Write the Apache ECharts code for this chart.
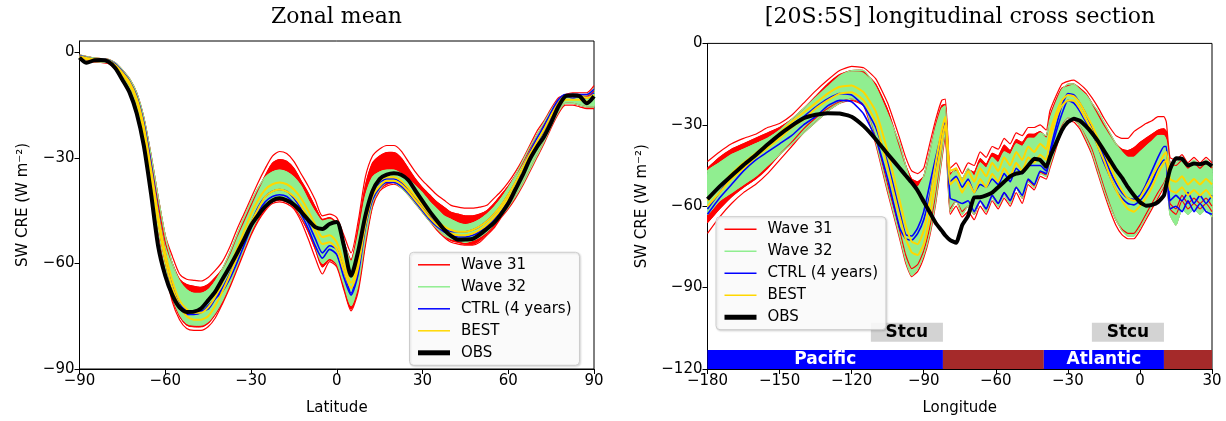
<!DOCTYPE html>
<html><head><meta charset="utf-8">
<script src="https://cdn.jsdelivr.net/npm/echarts@6/dist/echarts.min.js"></script>
<style>html,body{margin:0;padding:0;background:#fff}#c{width:1226px;height:421px}</style>
</head><body><div id="c"></div><script>
// ---------------- Left panel: Zonal mean ----------------
const lat = [-90,-87.5,-85,-82.5,-80,-77.5,-75,-72.5,-70,-67.5,-65,-62.5,-60,-57.5,-55,-52.5,-50,-47.5,-45,-42.5,-40,-37.5,-35,-32.5,-30,-27.5,-25,-22.5,-20,-17.5,-15,-12.5,-10,-7.5,-5,-2.5,0,2.5,5,7.5,10,12.5,15,17.5,20,22.5,25,27.5,30,32.5,35,37.5,40,42.5,45,47.5,50,52.5,55,57.5,60,62.5,65,67.5,70,72.5,75,77.5,80,82.5,85,87.5,90];
const zmObs = [-1.5,-3.0,-2.3,-2.2,-2.6,-4.5,-7.8,-11.4,-17.3,-26.5,
 -40,-55,-63.5,-69,-72.5,-73.8,-73.7,-72.8,-70.5,-68,
 -64.5,-61,-57.3,-53.3,-49.2,-46.3,-43.8,-42.1,-41.5,-42.1,
 -43.3,-45.3,-47.6,-49.7,-50.2,-48.8,-48.2,-55,-63.5,-56.5,
 -46.5,-39.5,-36,-34.8,-34.4,-34.8,-36.3,-39.3,-42.3,-45.2,
 -47.8,-50.3,-52.2,-53.3,-53.2,-53,-51.8,-50.2,-48.5,-46,
 -43,-39,-35,-30.5,-27,-24,-20,-15.5,-12.5,-12.2,
 -12.5,-14.5,-12.5];
const zmBest1 = [-1.2,-1.6,-2.0,-2.1,-2.3,-3.6,-5.8,-8.5,-13,-21,
 -33,-46,-57,-65,-70.5,-73,-74,-74,-72.5,-69.5,
 -65.5,-61,-56,-51,-46,-42,-39,-37.5,-37,-37.5,
 -39,-41.5,-45,-49,-52.5,-52,-54,-60,-65.5,-59,
 -47,-39.5,-36.5,-35.5,-35.5,-36.5,-38.5,-41,-43.5,-46,
 -48,-49.5,-50.5,-51,-51,-50.5,-49.5,-48,-46,-43.5,
 -40.5,-37,-33,-29,-25.5,-22,-18,-14.5,-12.5,-12.5,
 -12.5,-13,-12];
const zmBest2 = [-1.5,-1.9,-2.3,-2.4,-2.6,-4.0,-6.3,-9.2,-14,-22.5,
 -35,-48,-59,-67,-72,-75,-76,-76,-75,-72,
 -68,-63.5,-58.5,-53.5,-48.5,-44.5,-41,-39.5,-39,-39.5,
 -41,-43.5,-47,-51,-54.5,-54,-56,-62,-67,-61,
 -49,-41,-38,-36.5,-36.5,-37.5,-39.5,-42,-44.5,-47,
 -49,-50.5,-51.5,-52,-52,-51.5,-50.5,-49,-47,-44.5,
 -41.5,-38.5,-34.5,-30.5,-27,-23.5,-19.5,-15.5,-13.5,-13.5,
 -13.5,-14,-13];
const zmCtrl1 = [-1.0,-1.5,-1.9,-2.0,-2.2,-3.3,-5.5,-8.2,-12.5,-20,
 -31.5,-45,-57,-66,-71.5,-73.5,-74,-73.5,-73,-70,
 -67,-63,-58.5,-53,-48.5,-44,-41,-39.5,-39,-39.5,
 -41.5,-44.5,-48.5,-53,-57,-55,-56,-62,-68.5,-61,
 -48,-40,-37,-36,-36,-37,-39,-41.5,-44,-46.5,
 -48.5,-50,-51,-51,-51,-50.5,-49.5,-48,-46,-43.5,
 -40.5,-37,-33,-28.5,-24.5,-21,-17,-13.5,-12,-12,
 -12,-12,-10.5];
const zmCtrl2 = [-1.3,-1.8,-2.2,-2.2,-2.4,-3.7,-6.0,-8.8,-13.5,-21.5,
 -34,-47.5,-59,-67.5,-72.5,-74.5,-74.5,-74,-72,-70,
 -68,-64.5,-60,-55,-50,-45.5,-42.5,-41,-40.5,-41,
 -43,-46,-50,-55,-58.5,-56,-57.5,-64,-69,-63,
 -50,-42,-38.5,-37,-37,-38,-40,-42.5,-45,-47.5,
 -49.5,-51,-52,-52.5,-52.5,-52,-51,-49.5,-47.5,-45,
 -42,-38.5,-34.5,-30,-26,-22.5,-18.5,-14.5,-12.5,-13,
 -12.5,-13,-11.5];
const zmW32Top = [-0.8,-1.2,-1.6,-1.8,-2.0,-3.0,-5.0,-7.5,-11.5,-18.5,
 -29,-41,-52,-60,-65,-67.5,-68.5,-68.5,-67.5,-65,
 -61.5,-57,-52,-47,-42.5,-38.5,-35.5,-34,-33.5,-34,
 -35.5,-38,-42,-45.5,-48,-47.5,-49,-54,-59.5,-52,
 -41,-35.5,-34,-33.5,-33.5,-34.5,-36,-38,-40,-42.5,
 -44.5,-46.5,-47.5,-48.5,-49,-48.5,-47.5,-46,-44,-41.5,
 -38.5,-35,-31,-27,-23.5,-20,-16.5,-13.5,-12,-12,
 -12,-12,-10.5];
const zmW32Bot = [-2.0,-2.5,-2.7,-2.8,-3.0,-4.5,-7.0,-10,-15,-24,
 -37,-50,-61,-69.5,-74.5,-77,-77.5,-77.5,-76.5,-74,
 -70.5,-66,-61,-56,-51,-47,-44,-42,-41.5,-42,
 -43.5,-46.5,-50,-55,-60,-58.5,-60,-66,-72,-66,
 -53,-43,-39,-37,-37,-38.5,-40.5,-43,-45.5,-48,
 -50,-52,-53,-53.5,-54,-53.5,-52.5,-51,-49,-46.5,
 -44,-41,-37.5,-33.5,-29.5,-25.5,-21,-17,-14.5,-14.5,
 -15,-15.5,-15.5];
const zmW31Top = [-0.8,-1.2,-1.6,-1.8,-2.0,-3.0,-5.0,-7.5,-11.5,-18.5,
 -29,-41,-52,-58,-63,-64.5,-64.8,-65,-64,-62,
 -59.5,-55.5,-50.5,-46,-41.5,-37,-33,-29.5,-28.2,-28.8,
 -31,-34.5,-38,-42,-46.5,-46,-47,-52,-57,-48,
 -35.5,-29.5,-27.5,-26.5,-26.5,-28,-31,-34,-36.5,-38.5,
 -40.5,-42,-43.5,-44,-44.3,-44.3,-44,-43.5,-41.5,-39.5,
 -37,-34,-30.5,-26.5,-22.5,-19.5,-16,-13,-12,-11.5,
 -11.5,-11.5,-9.5];
const zmW31Top2 = [-1.0,-1.4,-1.8,-2.0,-2.2,-3.3,-5.4,-8.0,-12.2,-19.5,
 -30.5,-43,-54,-60,-64.5,-66,-66.5,-66.8,-66,-64,
 -61.5,-57.5,-52.5,-48,-43.5,-39,-35,-31.5,-30.5,-31,
 -33,-36.5,-40,-44,-47.5,-47,-48.5,-54,-59,-50,
 -38,-31.5,-29.5,-28.5,-28.5,-30,-33,-36,-38.5,-40.5,
 -42.5,-44,-45.5,-46,-46.5,-46.5,-46,-45,-43,-40.5,
 -38,-35,-31.5,-27.5,-23.5,-20.5,-17,-14,-12.5,-12.5,
 -12.5,-12.5,-11];
const zmW31Bot = [-2.0,-2.6,-2.8,-2.9,-3.2,-4.8,-7.2,-10.5,-15.5,-24.5,
 -37.5,-51,-62,-71,-76,-78.5,-79,-79,-78,-75.5,
 -71.5,-67,-62,-57,-52,-48,-45,-43,-42.5,-43,
 -44.5,-48,-53,-58.5,-63,-59.5,-61,-67.5,-73.5,-68,
 -55,-44,-39.5,-38,-37.5,-38.5,-40.5,-43,-45.5,-48,
 -50.5,-52.5,-54,-54.5,-54.8,-54.8,-54,-52,-50,-47,
 -44.5,-41.5,-38,-34,-30,-26,-21.5,-17.5,-15,-15,
 -15.5,-16,-16];
const zmW31Bot2 = [-1.8,-2.3,-2.6,-2.7,-3.0,-4.4,-6.8,-10,-15,-24,
 -37,-50,-61,-70,-75,-77.5,-78,-78,-77,-74.5,
 -71,-66.5,-61.5,-56.5,-51.5,-47.5,-44.5,-42.5,-42,-42.5,
 -44,-47,-51,-56,-61,-59,-60.5,-67,-73,-67,
 -54,-43.5,-39,-37.5,-37,-38,-40,-42.5,-45,-47.5,
 -50,-52,-53.5,-54,-54.5,-54.5,-53.5,-51.5,-49.5,-46.5,
 -44,-41,-37.5,-33.5,-29.5,-25.5,-21,-17,-14.5,-14.5,
 -15,-15.5,-15.5];

// ---------------- Right panel: [20S:5S] cross section ----------------
const lon = [-180,-175,-170,-165,-160,-155,-150,-145,-140,-135,-130,-125,-120,-115,-110,-105,-100,
 -97.5,-95,-92.5,-90,-87.5,-85,-82.5,-81,
 -79,-76.5,-74,-71.5,-69,-66.5,-64,-61.5,-59,-56.5,-54,-51.5,-49,-46.5,-44,-41.5,-39,
 -37.5,-35,-32.5,-30,-27.5,-25,-22.5,-20,-17.5,-15,-12.5,-10,-7.5,-5,-2.5,0,2.5,5,7.5,10,11,
 12.5,15,17.5,20,22.5,25,27.5,30];
const xsObs = [-57.4,-52.8,-48.8,-44.8,-41.2,-37.3,-33.6,-30.4,-27.6,-26.3,-25.7,-25.8,-27,-30.5,-35.3,-40.8,-46,
 -48.7,-51.3,-54.3,-58.3,-62.2,-66.2,-69,-70.8,
 -72.5,-73.5,-67,-63.5,-56.8,-56.7,-56,-55,-53,-51,-49,-48,-47.5,-45,-42.5,-43,-45.5,
 -42,-37,-32,-29,-27.8,-28.5,-30.5,-33,-36,-39.5,-43,-46.5,-49.5,-53,-56,-58.5,-59.8,-59.5,-58.5,-56,-52,
 -46.5,-42.3,-42.5,-45,-44.3,-44.5,-43.9,-45.2];
const xsW31Top = [-43.5,-40,-37,-35,-33.5,-31,-29.5,-26.5,-22,-17.5,-13.5,-10,-8.5,-9,-13,-22,-35,
 -42,-47,-48,-46,-37,-28,-21,-20.5,
 -46,-44,-48,-44,-45,-40,-42,-38,-39,-35,-37,-33,-34,-31,-31,-30,-32,
 -25,-19.5,-15,-14,-13.5,-15,-17,-20,-23.5,-27.5,-31,-34,-35,-35,-32.5,-31,-29.5,-28.5,-27,-27,-29,
 -42,-43,-41,-44,-42,-44,-42,-44];
const xsW31Top2 = [-46,-42,-39,-37,-35,-33,-31,-28,-24,-19.5,-15,-11.5,-10,-10.5,-15,-24.5,-38,
 -45,-50,-51,-49,-40,-30,-23,-22.5,
 -48,-46.5,-50,-46.5,-47.5,-42.5,-44.5,-40.5,-41.5,-37.5,-39.5,-35.5,-36.5,-33.5,-33.5,-32.5,-34.5,
 -27,-21,-16.5,-15.5,-15,-16.5,-18.5,-22,-26,-30,-33.5,-37,-39,-39.5,-38.5,-36.5,-35,-33.5,-32,-31.5,-32.5,
 -44,-45,-43,-46,-44,-46,-44,-46];
const xsW31Bot = [-70,-64,-59,-55,-52,-48,-43,-38,-33,-29,-25,-22,-21,-23,-37,-55,-72,
 -81,-86,-84,-79,-71,-59,-43,-34,
 -63,-60,-64,-62,-65,-60,-63,-58,-61,-57,-60,-55,-59,-52,-54,-49,-50,
 -46,-39,-32,-28.5,-29,-31.5,-36,-41,-48,-55,-61.5,-67,-70.5,-72,-72,-69,-65,-61,-57,-53,-51,
 -61,-63,-58,-61,-59,-61,-59,-62];
const xsW31Bot2 = [-66,-61,-56.5,-53,-50,-46,-41,-36.5,-31.5,-27.5,-24,-21.5,-20.5,-22.5,-35,-52,-69,
 -78,-83,-81.5,-76.5,-68,-56,-41,-32.5,
 -61,-58,-62,-60,-63,-58,-61,-56,-59,-55,-58,-53,-57,-50.5,-52.5,-47.5,-48.5,
 -44,-37.5,-30.5,-27.5,-28,-30.5,-34.5,-39,-46,-53,-59.5,-65,-68.5,-70,-70,-67,-63,-59,-55,-51.5,-49.5,
 -59,-61,-56,-59,-57,-59,-57,-60];
const xsW32Top = [-47,-44,-41,-39,-37,-35,-32,-28,-24,-20,-16,-12,-10,-10,-16,-26,-37,
 -45,-52,-53,-49,-40,-31,-24,-23,
 -49,-46,-50,-46,-49,-44,-46,-42,-44,-40,-41,-37,-38,-35,-35,-33,-34,
 -28,-22,-17,-15,-15,-17,-19,-22,-25,-29,-33,-37,-40,-42,-42,-40,-38,-36,-34,-34,-36,
 -44,-44,-42,-45,-43,-45,-43,-45];
const xsW32Bot = [-63,-58,-55,-52,-49,-45,-41,-37,-33,-29,-25,-22,-20.5,-22,-36,-54,-71,
 -80,-85.5,-83,-78,-70,-58,-42,-32,
 -62,-58,-63,-60,-63,-58,-62,-57,-60,-56,-59,-53,-57,-51,-53,-48,-49,
 -45,-38,-31,-27.5,-28,-30.5,-35,-40,-47,-54,-60,-65,-69,-71,-71,-68,-64,-60,-56,-52,-50,
 -63,-67,-61,-63,-61,-63,-61,-64];
const xsCtrl1 = [-61,-55,-49,-45,-41,-37,-34,-30,-27,-23.5,-20.5,-18.5,-19,-23,-31,-44,-62,
 -70.5,-71,-68,-62,-52,-42,-33,-29,
 -51,-49,-53,-50,-55,-52,-53,-50,-52,-48,-51,-46,-48,-45,-45,-45,-47,
 -40,-31,-23,-18.5,-19,-22,-26,-31,-36,-41.5,-47,-51.5,-55,-57,-57.5,-56,-52,-47,-42,-38,-38,
 -58,-56,-58,-55,-59,-56,-59,-56];
const xsCtrl2 = [-63,-57,-52,-47,-43,-40,-37,-34,-30,-27,-23,-21,-21.5,-26,-35,-50,-68,
 -72,-72.5,-70,-65,-56,-45,-35,-31,
 -57,-58,-59,-58,-62,-58,-61,-56,-59,-55,-58,-53,-56,-50,-52,-47,-48,
 -41,-33,-26,-21,-22,-25,-29,-33,-38,-44,-49,-54,-57,-59,-59.5,-58,-55,-51,-46,-43,-44,
 -61,-60,-62,-58,-62,-59,-62,-63];
const xsBest1 = [-58,-53,-48,-44,-40.5,-37,-33,-29,-25.5,-22,-18.5,-16,-15.5,-18,-25,-40,-58,
 -67,-73,-74,-69,-58,-44,-32,-27,
 -47,-46,-51,-47,-51,-46,-49,-44,-47,-42,-45,-40,-43,-38,-40,-37,-39,
 -33,-26,-21,-19,-19.5,-22,-26,-30,-35,-40,-45,-50,-54,-57,-58,-57,-53,-49,-45,-41,-40,
 -50,-51,-49,-52,-50,-52,-50,-52];
const xsBest2 = [-60,-55,-50,-46,-42,-38.5,-35,-31,-28,-24,-21,-18.5,-18,-21,-29,-46,-64,
 -72,-77,-78,-74,-64,-50,-36,-30,
 -52,-50,-55,-51,-55,-50,-53,-48,-51,-46,-49,-44,-47,-42,-44,-41,-43,
 -36,-28,-23,-21,-21,-24,-28,-32,-38,-43,-49,-54,-58,-61,-62,-60,-57,-53,-48,-44,-43,
 -54,-55,-53,-56,-54,-56,-54,-57];

// annotation regions (longitude ranges, value ranges)
const basinNames = ['Pacific', '', 'Atlantic', ''];
const basinFrom = [-180, -82, -40, 10];
const basinTo = [-82, -40, 10, 30];
const basinBand = [-113, -120];
const stcuFrom = [-112, -20];
const stcuTo = [-82, 10];
const stcuBand = [-103, -110];

const legendNames = ['Wave 31', 'Wave 32', 'CTRL (4 years)', 'BEST', 'OBS'];
const titles = ['Zonal mean', '[20S:5S] longitudinal cross section'];

// ---------------- Styling / building ----------------
const RED = '#ff0000', GREEN = '#90ee90', BLUE = '#0000ff', GOLD = '#ffd700', BLACK = '#000000';
const FONT = '"DejaVu Sans", sans-serif';
const pairs = (xs, ys) => xs.map((x, i) => [x, ys[i]]);
function ln(name, xs, ys, color, width, p, sm) {
  return { type: 'line', name, data: pairs(xs, ys), xAxisIndex: p, yAxisIndex: p,
    symbol: 'none', showSymbol: false, smooth: sm, animation: false,
    lineStyle: { color, width }, itemStyle: { color } };
}
function band(xs, lo, hi, p, sm, color, key) {
  return { type: 'custom', name: '_band' + key + p, xAxisIndex: p, yAxisIndex: p, silent: true, animation: false,
    clip: true,
    data: xs.map((x, i) => [x, lo[i], hi[i]]),
    encode: { x: 0, y: [1, 2] },
    renderItem: (params, api) => {
      if (params.dataIndex !== 0) return null;
      const top = xs.map((x, i) => api.coord([x, hi[i]]));
      const bot = xs.map((x, i) => api.coord([x, lo[i]])).reverse();
      return { type: 'polygon', shape: { points: top.concat(bot), smooth: sm },
        style: { fill: color, stroke: color, lineWidth: 1 } };
    } };
}
function panel(xs, d, p, sm) {
  return [
    band(xs, d.gt, d.rt2, p, sm, RED, 'ru'),
    band(xs, d.rb2, d.gb, p, sm, RED, 'rl'),
    ln('Wave 31', xs, d.rt, RED, 1.2, p, sm),
    ln('Wave 31', xs, d.rt2, RED, 1.2, p, sm),
    ln('Wave 31', xs, d.rb, RED, 1.2, p, sm),
    ln('Wave 31', xs, d.rb2, RED, 1.2, p, sm),
    band(xs, d.gb, d.gt, p, sm, GREEN, 'g'),
    ln('Wave 32', xs, d.gb, GREEN, 1.2, p, sm),
    ln('Wave 32', xs, d.gt, GREEN, 1.2, p, sm),
    ln('CTRL (4 years)', xs, d.c1, BLUE, 1.6, p, sm),
    ln('CTRL (4 years)', xs, d.c2, BLUE, 1.6, p, sm),
    ln('BEST', xs, d.b1, GOLD, 2, p, sm),
    ln('BEST', xs, d.b2, GOLD, 2, p, sm),
    ln('OBS', xs, d.o, BLACK, 4, p, sm)
  ];
}
const minus = v => String(v).replace('-', '\u2212');
function xAx(g, min, max, name) {
  return { gridIndex: g, type: 'value', min, max, interval: 30, name, nameLocation: 'middle', nameGap: 32,
    nameTextStyle: { fontFamily: FONT, fontSize: 15, color: '#000' },
    axisLine: { onZero: false, lineStyle: { color: '#000', width: 1 } },
    axisTick: { length: 5, lineStyle: { color: '#000' } },
    axisLabel: { color: '#000', fontFamily: FONT, fontSize: 15, margin: 5, formatter: minus },
    splitLine: { show: false } };
}
function yAx(g, min, max, gap, showMax) {
  return { gridIndex: g, type: 'value', min, max, interval: 30, name: 'SW CRE (W m\u207B\u00B2)',
    nameLocation: 'middle', nameGap: gap, nameRotate: 90,
    nameTextStyle: { fontFamily: FONT, fontSize: 15, color: '#000' },
    axisLine: { onZero: false, lineStyle: { color: '#000', width: 1 } },
    axisTick: { length: 5, lineStyle: { color: '#000' } },
    axisLabel: { color: '#000', fontFamily: FONT, fontSize: 15, margin: 5, formatter: minus, showMaxLabel: showMax },
    splitLine: { show: false } };
}
const legendWidths = [1.5, 1.5, 1.5, 1.5, 5];
function legend(left, top) {
  return { data: legendNames.map((n, i) => ({ name: n, lineStyle: { width: legendWidths[i] } })),
    orient: 'vertical', left, top, itemWidth: 32, itemHeight: 14, itemGap: 7,
    padding: [5, 8, 5, 6], backgroundColor: 'rgba(255,255,255,0.85)', borderColor: '#cccccc', borderWidth: 1,
    borderRadius: 4, shadowColor: 'rgba(0,0,0,0.15)', shadowBlur: 2, shadowOffsetX: 1, shadowOffsetY: 1,
    itemStyle: { opacity: 0, borderWidth: 0 },
    textStyle: { fontFamily: FONT, fontSize: 15, color: '#000', padding: [0, 0, 0, 6] }, selectedMode: false };
}

const leftData = { rt: zmW31Top, rt2: zmW31Top2, rb: zmW31Bot, rb2: zmW31Bot2, gt: zmW32Top, gb: zmW32Bot,
  c1: zmCtrl1, c2: zmCtrl2, b1: zmBest1, b2: zmBest2, o: zmObs };
const rightData = { rt: xsW31Top, rt2: xsW31Top2, rb: xsW31Bot, rb2: xsW31Bot2, gt: xsW32Top, gb: xsW32Bot,
  c1: xsCtrl1, c2: xsCtrl2, b1: xsBest1, b2: xsBest2, o: xsObs };

const annotAreas = [];
basinNames.forEach((n, i) => {
  annotAreas.push([{ xAxis: basinFrom[i], yAxis: basinBand[0], name: n,
    itemStyle: { color: n ? '#0000ff' : '#a52a2a', opacity: 1 },
    label: { show: !!n, position: 'inside', color: '#fff', fontWeight: 'bold', fontFamily: FONT, fontSize: 17 } },
    { xAxis: basinTo[i], yAxis: basinBand[1] }]);
});
stcuFrom.forEach((f, i) => {
  annotAreas.push([{ xAxis: f, yAxis: stcuBand[0], name: 'Stcu',
    itemStyle: { color: '#d3d3d3', opacity: 1 },
    label: { show: true, position: 'inside', color: '#000', fontWeight: 'bold', fontFamily: FONT, fontSize: 17 } },
    { xAxis: stcuTo[i], yAxis: stcuBand[1] }]);
});

const chart = echarts.init(document.getElementById('c'), null, { renderer: 'canvas' });
chart.setOption({
  animation: false,
  backgroundColor: '#fff',
  grid: [
    { left: 79.5, right: 632, top: 41, bottom: 48.3, show: true, borderColor: '#000', borderWidth: 1 },
    { left: 707.5, right: 14, top: 43.4, bottom: 50.3, show: true, borderColor: '#000', borderWidth: 1 }
  ],
  xAxis: [xAx(0, -90, 90, 'Latitude'), xAx(1, -180, 30, 'Longitude')],
  yAxis: [yAx(0, -90, 3.2, 49, false), yAx(1, -120, 0, 58, true)],
  legend: [legend(409.5, 252.3), legend(716, 216.7)],
  graphic: [
    { type: 'text', x: 336.5, y: 6, style: { text: titles[0], font: '22px "DejaVu Serif", serif', fill: '#000', textAlign: 'center' } },
    { type: 'text', x: 960, y: 6, style: { text: titles[1], font: '22px "DejaVu Serif", serif', fill: '#000', textAlign: 'center' } }
  ],
  series: [
    ...panel(lat, leftData, 0, 0.25),
    ...panel(lon, rightData, 1, 0.15),
    { type: 'line', name: '_annot', xAxisIndex: 1, yAxisIndex: 1, data: [], silent: true,
      markArea: { silent: true, data: annotAreas } }
  ]
});
</script></body></html>
